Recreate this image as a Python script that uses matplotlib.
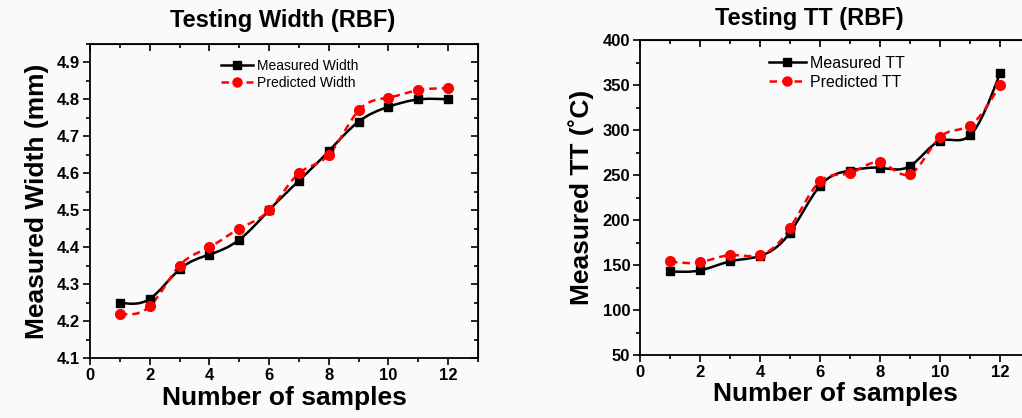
import numpy as np
import matplotlib
matplotlib.use("Agg")
import matplotlib.pyplot as plt
from matplotlib.path import Path
from matplotlib.patches import PathPatch
from matplotlib.lines import Line2D
from matplotlib.ticker import MultipleLocator

plt.rcParams["font.family"] = ["Liberation Sans", "DejaVu Sans"]

samples = np.arange(1, 13)

width_measured = [4.25, 4.26, 4.34, 4.38, 4.42, 4.50, 4.58, 4.66, 4.74, 4.78, 4.80, 4.80]
width_predicted = [4.22, 4.24, 4.35, 4.40, 4.45, 4.50, 4.60, 4.65, 4.77, 4.805, 4.825, 4.83]

tt_measured = [143, 144, 154, 160, 186, 238, 255, 258, 260, 288, 294, 363]
tt_predicted = [154, 153, 161, 161, 191, 243, 252, 264, 251, 292, 305, 350]

BG = "#fafafa"


def spline_path(x, y):
    """Natural cubic spline through the points, expressed as Bezier segments."""
    x = np.asarray(x, float)
    y = np.asarray(y, float)
    n = len(x)
    h = np.diff(x)
    A = np.zeros((n, n))
    r = np.zeros(n)
    A[0, 0] = A[-1, -1] = 1.0
    for i in range(1, n - 1):
        A[i, i - 1] = h[i - 1]
        A[i, i] = 2 * (h[i - 1] + h[i])
        A[i, i + 1] = h[i]
        r[i] = 6 * ((y[i + 1] - y[i]) / h[i] - (y[i] - y[i - 1]) / h[i - 1])
    M = np.linalg.solve(A, r)
    slope = np.empty(n)
    slope[:-1] = (y[1:] - y[:-1]) / h - h * (2 * M[:-1] + M[1:]) / 6
    slope[-1] = (y[-1] - y[-2]) / h[-1] + h[-1] * (M[-2] + 2 * M[-1]) / 6
    verts = [(x[0], y[0])]
    codes = [Path.MOVETO]
    for i in range(n - 1):
        d = h[i] / 3
        verts += [(x[i] + d, y[i] + slope[i] * d),
                  (x[i + 1] - d, y[i + 1] - slope[i + 1] * d),
                  (x[i + 1], y[i + 1])]
        codes += [Path.CURVE4] * 3
    return Path(verts, codes)


def draw_panel(ax, meas, pred, ylim, ymajor, labels, leg_fs, leg_anchor):
    ax.set_facecolor(BG)
    ax.add_patch(PathPatch(spline_path(samples, meas), fill=False,
                           edgecolor="black", lw=1.8, zorder=2))
    ax.add_patch(PathPatch(spline_path(samples, pred), fill=False,
                           edgecolor="red", lw=1.8, linestyle=(0, (3, 2)), zorder=3))
    ax.plot(samples, meas, ls="none", marker="s", ms=6, color="black", zorder=4)
    ax.plot(samples, pred, ls="none", marker="o", ms=7, color="red", zorder=5)

    ax.set_xlim(0, 13)
    ax.set_ylim(*ylim)
    ax.xaxis.set_major_locator(MultipleLocator(2))
    ax.xaxis.set_minor_locator(MultipleLocator(1))
    ax.yaxis.set_major_locator(MultipleLocator(ymajor))
    ax.yaxis.set_minor_locator(MultipleLocator(ymajor / 2))
    ax.tick_params(which="both", direction="out", width=1.2, labelsize=12, pad=2)
    ax.tick_params(which="major", length=5)
    ax.tick_params(which="minor", length=3)
    for lab in ax.get_xticklabels() + ax.get_yticklabels():
        lab.set_fontweight("bold")
    for sp in ax.spines.values():
        sp.set_linewidth(1.3)

    # mirrored ticks on top and right, pointing inward
    top = ax.secondary_xaxis("top")
    top.xaxis.set_major_locator(MultipleLocator(2))
    top.xaxis.set_minor_locator(MultipleLocator(1))
    top.tick_params(which="both", direction="in", labeltop=False, width=1.2)
    top.tick_params(which="major", length=5)
    top.tick_params(which="minor", length=3)
    right = ax.secondary_yaxis("right")
    right.yaxis.set_major_locator(MultipleLocator(ymajor))
    right.yaxis.set_minor_locator(MultipleLocator(ymajor / 2))
    right.tick_params(which="both", direction="in", labelright=False, width=1.2)
    right.tick_params(which="major", length=5)
    right.tick_params(which="minor", length=3)

    handles = [
        Line2D([], [], color="black", lw=1.8, marker="s", ms=5.5),
        Line2D([], [], color="red", lw=1.8, ls=(0, (3, 2)), marker="o", ms=6.5),
    ]
    ax.legend(handles, labels, loc="upper left", bbox_to_anchor=leg_anchor,
              frameon=False, fontsize=leg_fs, handlelength=2.3,
              handletextpad=0.25, labelspacing=0.25, borderpad=0)

    ax.set_xlabel("Number of samples", fontsize=19, fontweight="bold", labelpad=2)


fig = plt.figure(figsize=(10.22, 4.18), dpi=100, facecolor=BG)
W, H = 1022, 418

ax1 = fig.add_axes([90 / W, 1 - 358 / H, 388 / W, 314 / H])
draw_panel(ax1, width_measured, width_predicted, (4.1, 4.95), 0.1,
           ["Measured Width", "Predicted Width"], 10, (0.32, 0.975))
ax1.set_ylabel("Measured Width (mm)", fontsize=19, fontweight="bold", labelpad=6)

ax2 = fig.add_axes([640 / W, 1 - 355 / H, 390 / W, 315 / H])
draw_panel(ax2, tt_measured, tt_predicted, (50, 400), 50,
           ["Measured TT", "Predicted TT"], 11.5, (0.31, 0.975))
ax2.set_ylabel("Measured TT (\u02daC)", fontsize=19, fontweight="bold", labelpad=6)

fig.text(283 / W, 1 - 21 / H, "Testing Width (RBF)", fontsize=17,
         fontweight="bold", ha="center", va="center")
fig.text(809 / W, 1 - 18 / H, "Testing TT (RBF)", fontsize=17,
         fontweight="bold", ha="center", va="center")

fig.savefig("out.png", dpi=100, facecolor=BG)
